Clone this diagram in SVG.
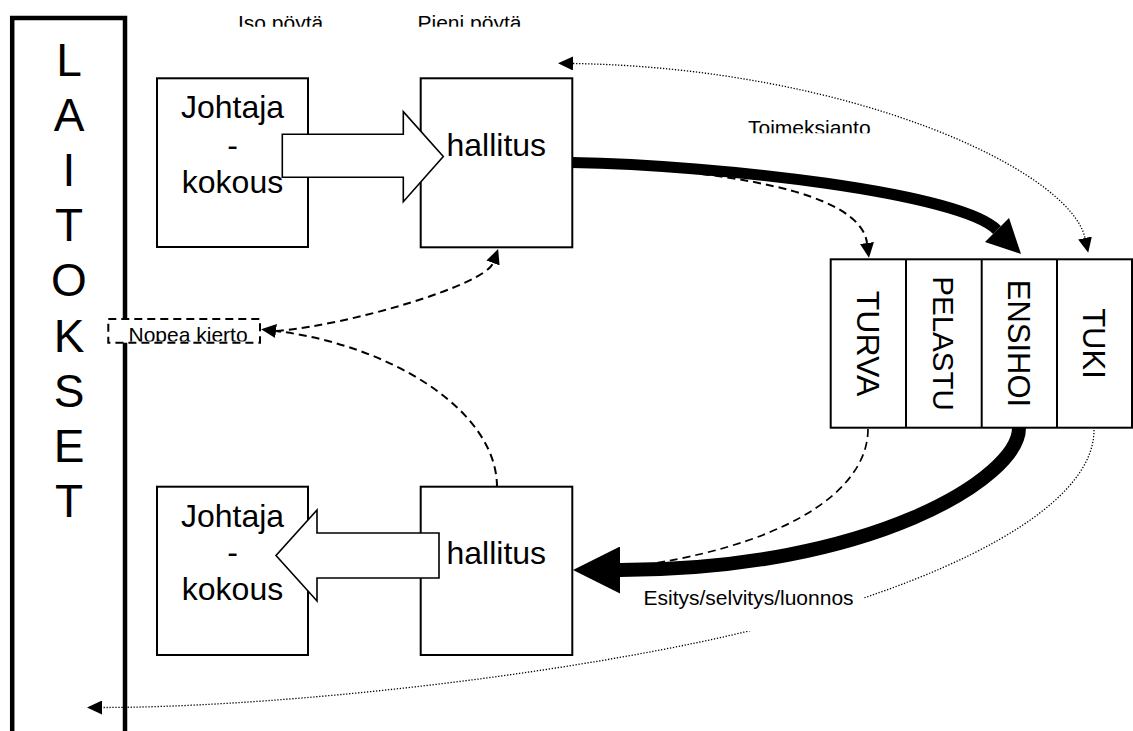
<svg xmlns="http://www.w3.org/2000/svg" width="1133" height="731" viewBox="0 0 1133 731">
<style>
  text { font-family: "Liberation Sans", Arial, sans-serif; fill: #000; }
  .box { fill: #fff; stroke: #000; stroke-width: 2; }
  .big { font-size: 32px; text-anchor: middle; }
  .lbl { font-size: 21px; }
  .vert { font-size: 31px; text-anchor: middle; }
  .laitos { font-size: 46px; text-anchor: middle; }
  .block { fill: #fff; stroke: #000; stroke-width: 1.6; stroke-linejoin: miter; }
  .thick { fill: none; stroke: #000; }
  .dash { fill: none; stroke: #000; stroke-width: 2; stroke-dasharray: 8 5; }
  .dot { fill: none; stroke: #000; stroke-width: 1.3; stroke-dasharray: 1.3 1.7; }
</style>
<defs>
  <marker id="hs" markerUnits="userSpaceOnUse" viewBox="0 0 15 14" markerWidth="15" markerHeight="14" refX="0" refY="7" orient="auto-start-reverse">
    <path d="M0,0 L15,7 L0,14 z" fill="#000"/>
  </marker>
  <marker id="ht" markerUnits="userSpaceOnUse" viewBox="0 0 34 34" markerWidth="34" markerHeight="34" refX="0" refY="17" orient="auto">
    <path d="M0,0 L34,17 L0,34 z" fill="#000"/>
  </marker>
  <marker id="hb" markerUnits="userSpaceOnUse" viewBox="0 0 47 47" markerWidth="47" markerHeight="47" refX="0" refY="23.5" orient="auto">
    <path d="M0,0 L47,23.5 L0,47 z" fill="#000"/>
  </marker>
  <clipPath id="clipTop"><rect x="0" y="0" width="1133" height="26.7"/></clipPath>
  <clipPath id="clipToim"><rect x="700" y="100" width="250" height="33.3"/></clipPath>
  <clipPath id="clipNopea"><rect x="108" y="319" width="152" height="22.5"/></clipPath>
</defs>

<g id="laitokset">
  <rect x="12.2" y="18" width="112.8" height="800" fill="#fff" stroke="#000" stroke-width="4.5"/>
  <text class="laitos" x="69" y="76">L</text>
  <text class="laitos" x="69" y="131">A</text>
  <text class="laitos" x="69" y="186">I</text>
  <text class="laitos" x="69" y="241">T</text>
  <text class="laitos" x="69" y="296">O</text>
  <text class="laitos" x="69" y="352">K</text>
  <text class="laitos" x="69" y="407">S</text>
  <text class="laitos" x="69" y="462">E</text>
  <text class="laitos" x="69" y="517">T</text>
</g>

<g id="label-iso"><text class="lbl" x="238" y="30" clip-path="url(#clipTop)">Iso pöytä</text></g>
<g id="label-pieni"><text class="lbl" x="417.5" y="30" clip-path="url(#clipTop)">Pieni pöytä</text></g>

<g id="johtaja-top">
  <rect class="box" x="157" y="78.3" width="151" height="168.7"/>
  <text class="big" x="232.5" y="118.3">Johtaja</text>
  <text class="big" x="232.5" y="155.8">-</text>
  <text class="big" x="232.5" y="193.3">kokous</text>
</g>
<g id="hallitus-top">
  <rect class="box" x="420.7" y="78.3" width="151.6" height="169"/>
  <text class="big" x="496.3" y="156">hallitus</text>
</g>
<g id="johtaja-bottom">
  <rect class="box" x="157" y="486.7" width="151" height="168.3"/>
  <text class="big" x="232.5" y="526.7">Johtaja</text>
  <text class="big" x="232.5" y="563.4">-</text>
  <text class="big" x="232.5" y="600">kokous</text>
</g>
<g id="hallitus-bottom">
  <rect class="box" x="420.7" y="486.7" width="151.6" height="168.3"/>
  <text class="big" x="496.3" y="564">hallitus</text>
</g>

<g id="yksikot">
  <rect class="box" x="830.7" y="259.3" width="301.3" height="168.4"/>
  <line x1="906" y1="259.3" x2="906" y2="427.7" stroke="#000" stroke-width="2"/>
  <line x1="981.7" y1="259.3" x2="981.7" y2="427.7" stroke="#000" stroke-width="2"/>
  <line x1="1057" y1="259.3" x2="1057" y2="427.7" stroke="#000" stroke-width="2"/>
  <text class="vert" style="font-size:32px" transform="translate(856.8,343.5) rotate(90)">TURVA</text>
  <text class="vert" style="font-size:29.5px" transform="translate(933.3,343.5) rotate(90)">PELASTU</text>
  <text class="vert" transform="translate(1008.4,343.5) rotate(90)">ENSIHOI</text>
  <text class="vert" transform="translate(1083.4,343.5) rotate(90)">TUKI</text>
</g>

<g id="connectors">
  <polygon class="block" points="282.3,134.3 403.3,134.3 403.3,111.7 443.3,156.5 403.3,201.7 403.3,177.3 282.3,177.3"/>
  <polygon class="block" points="439,533 317,533 317,510 276,555.5 317,601 317,578 439,578"/>
  <path class="dot" d="M573,63.5 C850,68 1070,170 1085,238" marker-start="url(#hs)" marker-end="url(#hs)"/>
  <path class="dot" d="M1094,430 C1094,520 900,600 700,642 C500,684 250,707.5 102,707.5" marker-end="url(#hs)"/>
  <path class="dash" d="M572,164 C720,170 860,190 867,243" marker-end="url(#hs)"/>
  <path class="dash" style="stroke-width:1.7" d="M868,429 C868,485 800,540 650,564 L600,568"/>
  <path class="dash" d="M497,487 C497,410 390,345 276,331" marker-end="url(#hs)"/>
  <path class="dash" d="M276,331 C350,325 485,285 493,263" marker-end="url(#hs)"/>
  <path class="thick" stroke-width="11" d="M572,162.5 C720,165 960,193 997,230" marker-end="url(#ht)"/>
  <path class="thick" stroke-width="14" d="M1019,428 C1019,478 870,570 620,570" marker-end="url(#hb)"/>
</g>

<g id="label-nopea">
  <rect x="108.3" y="319" width="151.7" height="23.7" fill="#fff" stroke="#000" stroke-width="2" stroke-dasharray="8 5"/>
  <text class="lbl" x="128.5" y="342.3" clip-path="url(#clipNopea)">Nopea kierto</text>
</g>
<g id="label-toimeksianto">
  <text class="lbl" x="748" y="135" clip-path="url(#clipToim)">Toimeksianto</text>
</g>
<g id="label-esitys">
  <rect x="640" y="584" width="223" height="47" fill="#fff"/>
  <text class="lbl" x="643.5" y="605">Esitys/selvitys/luonnos</text>
</g>
</svg>
